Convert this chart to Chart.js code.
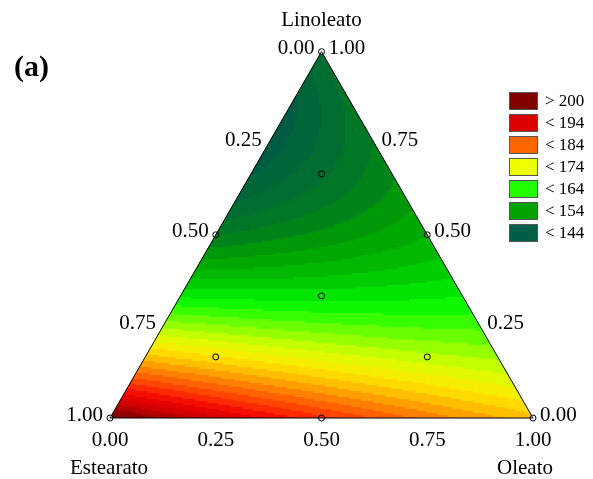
<!DOCTYPE html>
<html>
<head>
<meta charset="utf-8">
<script src="https://cdn.jsdelivr.net/npm/chart.js@4.4.1/dist/chart.umd.min.js"></script>
<style>
  html, body { margin: 0; padding: 0; background: #fff; }
  #wrap { width: 593px; height: 479px; }
</style>
</head>
<body>
<div id="wrap"><canvas id="tern"></canvas></div>
<script>
// components in order: Estearato (bottom left), Linoleato (top), Oleato (bottom right)
const components = ["Estearato", "Linoleato", "Oleato"];
// quadratic mixture model: E, L, O  and  E*L, E*O, L*O
const linearTerms = [202, 148, 179];
const blendTerms = [-100, -6, -30];
// design runs (E, L, O)
const designPoints = [
  [1, 0, 0], [0, 1, 0], [0, 0, 1],
  [0.5, 0.5, 0], [0.5, 0, 0.5], [0, 0.5, 0.5],
  [1 / 3, 1 / 3, 1 / 3],
  [2 / 3, 1 / 6, 1 / 6], [1 / 6, 2 / 3, 1 / 6], [1 / 6, 1 / 6, 2 / 3],
];
const tickValues = [0, 0.25, 0.5, 0.75, 1];
const tickLabels = ["0.00", "0.25", "0.50", "0.75", "1.00"];
const legendLabels = ["> 200", "< 194", "< 184", "< 174", "< 164", "< 154", "< 144"];
const legendColors = ["#800000", "#dd0000", "#ff6600", "#eeff00", "#22ff00", "#00a300", "#006047"];
// response -> colour ramp
const rampValues = [142, 146, 150, 154, 158, 162, 164, 168, 172, 176, 180, 184, 188, 192, 196, 200];
const rampColors = ["#005848", "#006a35", "#007a22", "#00a000", "#00c000", "#00f000", "#20ff00", "#80ff00",
  "#d8ff00", "#ffe800", "#ffb000", "#ff7000", "#ff3800", "#f00000", "#c80000", "#800000"];
const bandWidth = 2;

const H = Math.sqrt(3) / 2;
const toXY = (e, l, o) => ({ x: o + l / 2, y: l * H });

function response(e, l, o) {
  return linearTerms[0] * e + linearTerms[1] * l + linearTerms[2] * o +
    blendTerms[0] * e * l + blendTerms[1] * e * o + blendTerms[2] * l * o;
}

function hexRgb(h) {
  return [1, 3, 5].map(i => parseInt(h.slice(i, i + 2), 16));
}
const rampRgb = rampColors.map(hexRgb);

function colourFor(v) {
  v = Math.floor(v / bandWidth) * bandWidth + bandWidth / 2;
  if (v <= rampValues[0]) return rampColors[0];
  const n = rampValues.length;
  if (v >= rampValues[n - 1]) return rampColors[n - 1];
  let i = 0;
  while (v > rampValues[i + 1]) i++;
  const t = (v - rampValues[i]) / (rampValues[i + 1] - rampValues[i]);
  const a = rampRgb[i], b = rampRgb[i + 1];
  const c = a.map((ch, k) => Math.round(ch + (b[k] - ch) * t));
  return `rgb(${c[0]},${c[1]},${c[2]})`;
}

const outline = [toXY(1, 0, 0), toXY(0, 0, 1), toXY(0, 1, 0), toXY(1, 0, 0)];
const runs = designPoints.map(p => toXY(p[0], p[1], p[2]));

const serif = '"Liberation Serif", "Times New Roman", serif';

const surfacePlugin = {
  id: "surface",
  beforeDatasetsDraw(chart) {
    const { ctx, scales: { x, y } } = chart;
    ctx.save();
    ctx.beginPath();
    outline.forEach((p, i) => {
      const px = x.getPixelForValue(p.x), py = y.getPixelForValue(p.y);
      i ? ctx.lineTo(px, py) : ctx.moveTo(px, py);
    });
    ctx.closePath();
    ctx.clip();
    const step = 1 / 212;
    for (let gx = 0; gx < 1; gx += step) {
      for (let gy = 0; gy < H; gy += step) {
        const cx = gx + step / 2, cy = gy + step / 2;
        const l = cy / H;
        const o = cx - l / 2;
        const e = 1 - l - o;
        if (o < -0.01 || e < -0.01) continue;
        ctx.fillStyle = colourFor(response(Math.max(e, 0), l, Math.max(o, 0)));
        const x0 = Math.floor(x.getPixelForValue(gx));
        const x1 = Math.ceil(x.getPixelForValue(gx + step));
        const y0 = Math.floor(y.getPixelForValue(gy + step));
        const y1 = Math.ceil(y.getPixelForValue(gy));
        ctx.fillRect(x0, y0, x1 - x0, y1 - y0);
      }
    }
    ctx.restore();
  },
  afterDraw(chart) {
    const { ctx, scales: { x, y } } = chart;
    const px = p => x.getPixelForValue(p.x), py = p => y.getPixelForValue(p.y);
    ctx.save();
    ctx.fillStyle = "#000";
    ctx.font = `21px ${serif}`;
    ctx.textBaseline = "middle";
    tickValues.forEach((t, i) => {
      // bottom axis: Oleato
      const b = toXY(1 - t, 0, t);
      ctx.textAlign = "center";
      ctx.fillText(tickLabels[i], px(b), py(b) + 22);
      // left edge: Estearato
      const l = toXY(t, 1 - t, 0);
      ctx.textAlign = "right";
      ctx.fillText(tickLabels[i], px(l) - 7, py(l) - 3);
      // right edge: Linoleato
      const r = toXY(0, t, 1 - t);
      ctx.textAlign = "left";
      ctx.fillText(tickLabels[i], px(r) + 7, py(r) - 3);
    });
    ctx.textAlign = "center";
    const top = toXY(0, 1, 0);
    ctx.fillText(components[1], px(top), py(top) - 31);
    const bl = toXY(1, 0, 0), br = toXY(0, 0, 1);
    ctx.fillText(components[0], px(bl) - 1, py(bl) + 50);
    ctx.fillText(components[2], px(br) - 8, py(br) + 50);

    ctx.font = `bold 30px ${serif}`;
    ctx.textAlign = "left";
    ctx.fillText("(a)", 14, 68);

    // legend
    ctx.font = `17px ${serif}`;
    legendLabels.forEach((lab, i) => {
      const top = 92 + i * 22;
      ctx.fillStyle = legendColors[i];
      ctx.fillRect(509.5, top + 0.5, 28, 17);
      ctx.strokeStyle = "#555";
      ctx.lineWidth = 1;
      ctx.strokeRect(509.5, top + 0.5, 28, 17);
      ctx.fillStyle = "#000";
      ctx.fillText(lab, 545, top + 9.5);
    });
    ctx.restore();
  },
};

const pxPerUnit = 423;
new Chart(document.getElementById("tern"), {
  type: "scatter",
  data: {
    datasets: [
      {
        type: "line",
        data: outline,
        borderColor: "#000",
        borderWidth: 1,
        pointRadius: 0,
        pointHoverRadius: 0,
        fill: false,
        tension: 0,
      },
      {
        data: runs,
        pointRadius: 3,
        pointHoverRadius: 3,
        pointBorderWidth: 1,
        pointBorderColor: "#000",
        pointBackgroundColor: runs.map((p, i) => (i < 3 ? "#fff" : "rgba(0,0,0,0)")),
      },
    ],
  },
  options: {
    responsive: true,
    maintainAspectRatio: false,
    animation: false,
    clip: false,
    layout: { padding: 0, autoPadding: false },
    plugins: { legend: { display: false }, tooltip: { enabled: false } },
    scales: {
      x: { type: "linear", display: false, min: -110 / pxPerUnit, max: (593 - 110) / pxPerUnit },
      y: { type: "linear", display: false, min: -(479 - 418) / pxPerUnit, max: 418 / pxPerUnit },
    },
  },
  plugins: [surfacePlugin],
});
</script>
</body>
</html>
